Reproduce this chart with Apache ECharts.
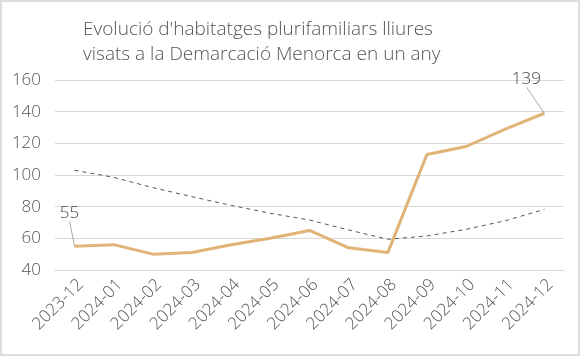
<!DOCTYPE html>
<html>
<head>
<meta charset="utf-8">
<script src="https://cdn.jsdelivr.net/npm/echarts@6/dist/echarts.min.js"></script>
<style>
html,body{margin:0;padding:0;background:#fff;}
#c{width:580px;height:356px;box-sizing:border-box;border:2px solid #dedede;}
</style>
</head>
<body>
<div id="c"></div>
<script>
var categories = ['2023-12','2024-01','2024-02','2024-03','2024-04','2024-05','2024-06','2024-07','2024-08','2024-09','2024-10','2024-11','2024-12'];
var values = [55, 56, 50, 51, 56, 60, 65, 54, 51, 113, 118, 129, 139];
var trend = [103, 98.5, 92, 86.3, 80.8, 75.8, 71.6, 65.3, 59.4, 61.5, 65.7, 71.1, 78.3];
var yTicks = [40, 60, 80, 100, 120, 140, 160];

var chart = echarts.init(document.getElementById('c'));
var FONT = 'Open Sans';
var mainData = values.map(function(v, i){
  var show = (i === 0 || i === values.length - 1);
  return {value: v, label: {show: show}, labelLine: {show: show}};
});
chart.setOption({
  animation: false,
  title: {
    text: "Evolució d'habitatges plurifamiliars lliures\nvisats a la Demarcació Menorca en un any",
    left: 76, top: 10,
    textStyle: {fontFamily: FONT, fontWeight: 300, fontSize: 19, lineHeight: 25, color: '#555'}
  },
  grid: {left: 53, right: 14, top: 78, bottom: 84},
  xAxis: {
    type: 'category', data: categories, boundaryGap: true,
    axisLine: {show: true, lineStyle: {color: '#d9d9d9'}},
    axisTick: {show: false},
    axisLabel: {rotate: 45, interval: 0, margin: 6, verticalAlign: 'top', fontFamily: FONT, fontWeight: 300, fontSize: 17, color: '#555'}
  },
  yAxis: {
    type: 'value', min: yTicks[0], max: yTicks[yTicks.length-1], interval: 20,
    axisLine: {show: false}, axisTick: {show: false},
    splitLine: {lineStyle: {color: '#d9d9d9', width: 1}},
    axisLabel: {margin: 14, fontFamily: FONT, fontWeight: 300, fontSize: 17, color: '#555'}
  },
  series: [
    {
      type: 'line', data: trend, symbol: 'none', silent: true,
      lineStyle: {color: '#555', width: 1, type: [4, 4]}
    },
    {
      type: 'line', data: mainData, symbol: 'circle', symbolSize: 0.1, showSymbol: true,
      itemStyle: {color: '#E2B377'},
      lineStyle: {color: '#E2B377', width: 3},
      label: {show: false, position: 'top', fontFamily: FONT, fontWeight: 300, fontSize: 17, color: '#444'},
      labelLine: {show: false, lineStyle: {color: '#aaa', width: 1}},
      labelLayout: function(p){
        if (p.dataIndex === 0) return {dx: -5, dy: -20};
        if (p.dataIndex === values.length - 1) return {dx: -18, dy: -21};
        return {};
      }
    }
  ]
});
</script>
</body>
</html>
